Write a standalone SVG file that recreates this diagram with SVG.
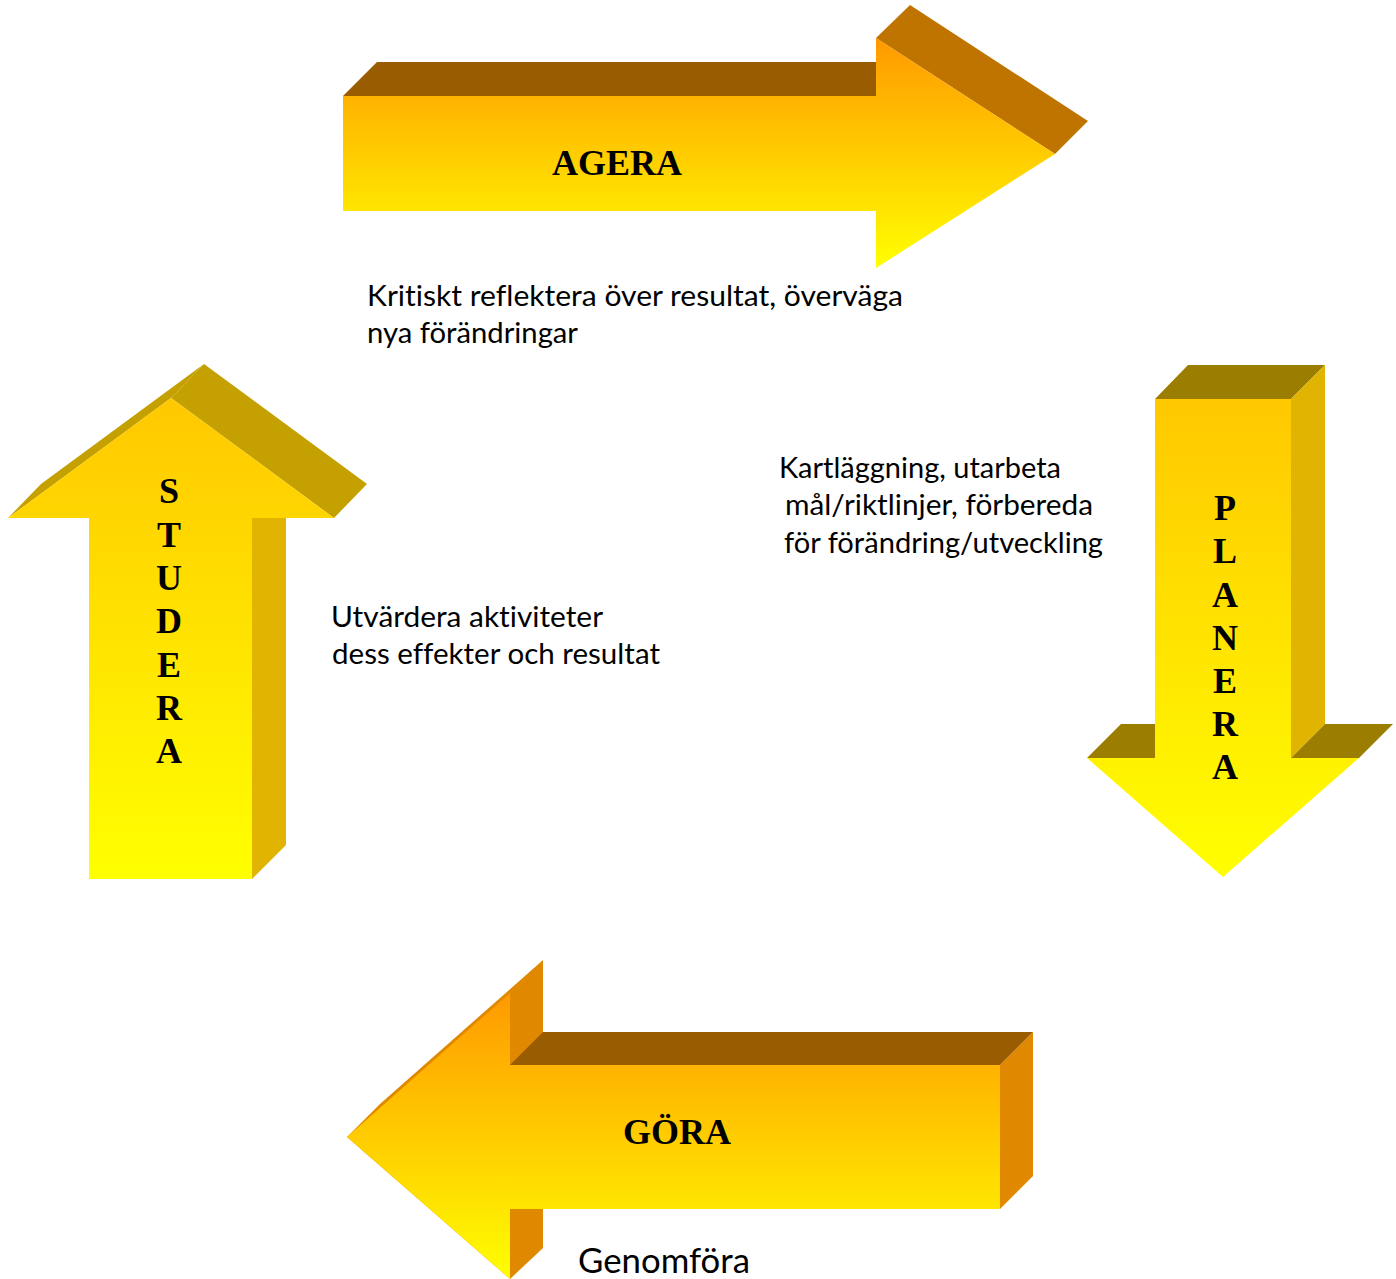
<svg xmlns="http://www.w3.org/2000/svg" width="1396" height="1279" viewBox="0 0 1396 1279">
<defs>
<linearGradient id="gAgera" gradientUnits="userSpaceOnUse" x1="0" y1="38" x2="0" y2="268"><stop offset="0" stop-color="#FF9900"/><stop offset="1" stop-color="#FFFF00"/></linearGradient>
<linearGradient id="gGora" gradientUnits="userSpaceOnUse" x1="0" y1="993" x2="0" y2="1279"><stop offset="0" stop-color="#FF9900"/><stop offset="1" stop-color="#FFFF00"/></linearGradient>
<linearGradient id="gPlanera" gradientUnits="userSpaceOnUse" x1="0" y1="399" x2="0" y2="877"><stop offset="0" stop-color="#FFC800"/><stop offset="1" stop-color="#FFFF00"/></linearGradient>
<linearGradient id="gStudera" gradientUnits="userSpaceOnUse" x1="0" y1="398" x2="0" y2="879"><stop offset="0" stop-color="#FFC800"/><stop offset="1" stop-color="#FFFF00"/></linearGradient>
<style>
.lbl{font-family:"Liberation Serif","Times New Roman",serif;font-weight:bold;font-size:36px;fill:#000;text-anchor:middle}
.txt{font-family:Lato,"Liberation Sans",sans-serif;font-size:29px;fill:#000;font-variant-ligatures:none}
</style>
</defs>
<g id="agera">
<polygon points="343,96 377,62 876,62 876,96" fill="#9A5C00"/>
<polygon points="876,38 910,5 1088,121 1055,154" fill="#C07400"/>
<polygon points="343,96 876,96 876,38 1055,154 876,268 876,211 343,211" fill="url(#gAgera)"/>
<text class="lbl" x="617" y="175">AGERA</text>
</g>
<g id="planera">
<polygon points="1155,399 1188,365 1325,365 1291,399" fill="#9B7D00"/>
<polygon points="1291,399 1325,365 1325,724 1291,758" fill="#E0B400"/>
<polygon points="1087,758 1121,724 1155,724 1155,758" fill="#9B7D00"/>
<polygon points="1291,758 1325,724 1393,724 1359,758" fill="#9B7D00"/>
<polygon points="1155,399 1291,399 1291,758 1359,758 1223,877 1087,758 1155,758" fill="url(#gPlanera)"/>
<text class="lbl" x="1225" y="520">P</text>
<text class="lbl" x="1225" y="563">L</text>
<text class="lbl" x="1225" y="607">A</text>
<text class="lbl" x="1225" y="650">N</text>
<text class="lbl" x="1225" y="693">E</text>
<text class="lbl" x="1225" y="736">R</text>
<text class="lbl" x="1225" y="779">A</text>
</g>
<g id="studera">
<polygon points="252,518 286,484 286,845 252,879" fill="#E0B400"/>
<polygon points="8,518 41,484 204,364 171,398" fill="#C4A000"/>
<polygon points="171,398 204,364 367,484 334,518" fill="#C4A000"/>
<polygon points="89,879 89,518 8,518 171,398 334,518 252,518 252,879" fill="url(#gStudera)"/>
<text class="lbl" x="169" y="503">S</text>
<text class="lbl" x="169" y="547">T</text>
<text class="lbl" x="169" y="590">U</text>
<text class="lbl" x="169" y="633">D</text>
<text class="lbl" x="169" y="677">E</text>
<text class="lbl" x="169" y="720">R</text>
<text class="lbl" x="169" y="763">A</text>
</g>
<g id="gora">
<polygon points="347,1137 380,1104 543,960 543,1248 510,1279" fill="#E08800"/>
<polygon points="1000,1065 1033,1032 1033,1176 1000,1209" fill="#E08800"/>
<polygon points="510,1065 543,1032 1033,1032 1000,1065" fill="#9A5C00"/>
<polygon points="347,1137 510,993 510,1065 1000,1065 1000,1209 510,1209 510,1279" fill="url(#gGora)"/>
<text class="lbl" x="677" y="1144">GÖRA</text>
</g>
<g id="connectors"></g>
<g id="notes">
<text class="txt" x="367" y="306" textLength="536" lengthAdjust="spacingAndGlyphs">Kritiskt reflektera över resultat, överväga</text>
<text class="txt" x="367" y="343" textLength="211" lengthAdjust="spacingAndGlyphs">nya förändringar</text>
<text class="txt" x="779" y="478" textLength="282" lengthAdjust="spacingAndGlyphs">Kartläggning, utarbeta</text>
<text class="txt" x="785" y="515" textLength="308" lengthAdjust="spacingAndGlyphs">mål/riktlinjer, förbereda</text>
<text class="txt" x="784" y="553" textLength="319" lengthAdjust="spacingAndGlyphs">för förändring/utveckling</text>
<text class="txt" x="331" y="627" textLength="272" lengthAdjust="spacingAndGlyphs">Utvärdera aktiviteter</text>
<text class="txt" x="332" y="664" textLength="328" lengthAdjust="spacingAndGlyphs">dess effekter och resultat</text>
<text class="txt" x="578" y="1273" style="font-size:34px" textLength="172" lengthAdjust="spacingAndGlyphs">Genomföra</text>
</g>
</svg>
